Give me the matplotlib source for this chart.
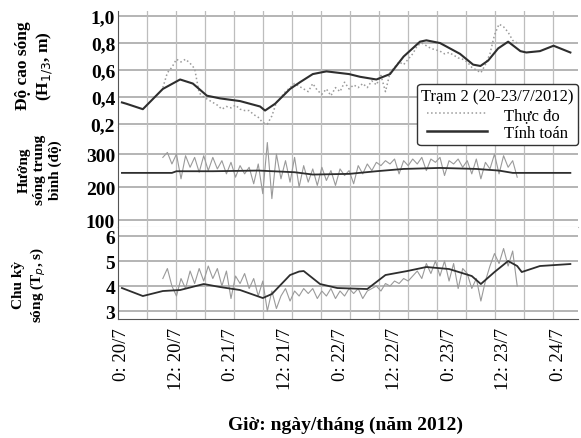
import matplotlib
matplotlib.use("Agg")
import matplotlib.pyplot as plt
import numpy as np
from matplotlib.lines import Line2D
from matplotlib.ticker import FuncFormatter

plt.rcParams['font.family'] = ['Liberation Serif', 'DejaVu Serif']

# Thời gian tính theo giờ kể từ 0h ngày 20/7/2012
tick_hours = [0, 12, 24, 36, 48, 60, 72, 84, 96]
tick_labels = ["0: 20/7", "12: 20/7", "0: 21/7", "12: 21/7", "0: 22/7",
               "12: 22/7", "0: 23/7", "12: 23/7", "0: 24/7"]

# Số liệu thực đo (mỗi giờ)
meas_hours = list(range(9, 88))
hs_meas = [0.47, 0.58, 0.62, 0.68, 0.66, 0.68, 0.65, 0.61, 0.43, 0.40,
           0.38, 0.36, 0.34, 0.31, 0.33, 0.32, 0.34, 0.31, 0.30, 0.30,
           0.27, 0.25, 0.21, 0.20, 0.26, 0.36, 0.40, 0.44, 0.47, 0.50,
           0.48, 0.46, 0.44, 0.50, 0.45, 0.42, 0.46, 0.41, 0.47, 0.44,
           0.51, 0.46, 0.49, 0.47, 0.50, 0.47, 0.52, 0.49, 0.56, 0.44,
           0.58, 0.62, 0.66, 0.64, 0.68, 0.72, 0.78, 0.80, 0.78, 0.76,
           0.75, 0.74, 0.72, 0.73, 0.71, 0.69, 0.68, 0.66, 0.62, 0.60,
           0.58, 0.64, 0.72, 0.86, 0.94, 0.92, 0.88, 0.82, 0.80]
dir_meas = [290, 305, 270, 300, 225, 295, 260, 290, 245, 295,
            250, 290, 255, 280, 240, 275, 230, 265, 240, 260,
            210, 270, 180, 335, 165, 300, 225, 280, 215, 290,
            200, 265, 215, 255, 205, 260, 220, 250, 205, 255,
            235, 250, 210, 265, 240, 270, 250, 275, 265, 280,
            270, 285, 240, 280, 265, 285, 270, 290, 250, 285,
            275, 290, 235, 280, 270, 285, 260, 280, 240, 285,
            225, 275, 255, 300, 240, 295, 260, 280, 230]
tp_meas = [4.3, 4.7, 4.0, 3.6, 4.3, 3.9, 4.6, 4.1, 4.7, 4.2,
           4.8, 4.3, 4.7, 4.0, 4.6, 3.5, 4.4, 4.1, 4.5, 3.9,
           4.3, 3.6, 4.2, 3.0, 3.8, 3.1, 3.6, 3.9, 3.4, 3.8,
           3.6, 3.9, 3.7, 3.9, 3.5, 3.8, 3.6, 3.9, 3.5, 3.8,
           3.6, 3.9, 3.7, 3.9, 3.5, 3.8, 3.9, 4.0, 3.8, 4.1,
           4.0, 4.2, 4.1, 4.3, 4.2, 4.4, 4.6, 4.3, 4.9, 4.5,
           5.0, 4.4, 5.0, 4.2, 4.9, 3.9, 4.7, 4.5, 3.9, 4.3,
           3.4, 4.2, 4.8, 5.3, 4.9, 5.5, 4.8, 5.4, 4.0]

# Kết quả tính toán
hs_calc_hours = [0, 1, 4.6, 9, 12.8, 15.6, 18.7, 21.6, 26, 30.4, 31.5, 33.7,
                 37, 39.2, 42, 45, 50, 52.4, 56, 59, 62, 65.6, 67, 70,
                 74.4, 77.3, 78.9, 80.6, 82.8, 85, 87.7, 89, 92, 95, 98.7]
hs_calc = [0.36, 0.35, 0.31, 0.46, 0.53, 0.50, 0.41, 0.39, 0.37, 0.33, 0.30,
           0.35, 0.46, 0.51, 0.57, 0.59, 0.57, 0.55, 0.53, 0.57, 0.70, 0.81,
           0.82, 0.80, 0.72, 0.64, 0.63, 0.67, 0.76, 0.81, 0.74, 0.73, 0.74,
           0.78, 0.73]
dir_calc_hours = [0, 11, 12, 20, 30, 38, 42, 50, 56, 62, 70, 78, 83, 86, 98.7]
dir_calc = [243, 243, 248, 248, 250, 245, 238, 240, 248, 255, 258, 255,
            250, 243, 243]
tp_calc_hours = [0, 4.6, 9, 12.8, 18, 21.6, 26, 31, 33, 37, 39, 40, 43.6,
                 47.4, 54, 58, 62.8, 67, 72, 77, 79, 82, 85, 87, 88, 92, 98.7]
tp_calc = [3.92, 3.60, 3.80, 3.84, 4.08, 3.96, 3.84, 3.52, 3.68, 4.44, 4.58,
           4.60, 4.08, 3.92, 3.88, 4.44, 4.60, 4.76, 4.68, 4.40, 4.08, 4.56,
           5.00, 4.80, 4.56, 4.80, 4.88]

meas_color = '#9a9a9a'
calc_color = '#2e2e2e'
grid_color = '#bdbdbd'

fig = plt.figure(figsize=(5.81, 4.39), dpi=100)
left, width = 0.203, 0.792
ax1 = fig.add_axes([left, 0.7084, width, 0.2642])
ax2 = fig.add_axes([left, 0.4806, width, 0.2278])
ax3 = fig.add_axes([left, 0.2710, width, 0.2096])

ax1.plot(meas_hours, hs_meas, color=meas_color, lw=1.1, ls=':', zorder=3)
ax1.plot(hs_calc_hours, hs_calc, color=calc_color, lw=1.5, zorder=4)
ax2.plot(meas_hours, dir_meas, color=meas_color, lw=0.8, zorder=3)
ax2.plot(dir_calc_hours, dir_calc, color=calc_color, lw=1.3, zorder=4)
ax3.plot(meas_hours, tp_meas, color=meas_color, lw=0.8, zorder=3)
ax3.plot(tp_calc_hours, tp_calc, color=calc_color, lw=1.3, zorder=4)

ax1.set_ylim(0.178, 1.037)
ax1.set_yticks([0.2, 0.4, 0.6, 0.8, 1.0])
ax1.yaxis.set_major_formatter(FuncFormatter(lambda v, p: f"{v:.1f}".replace('.', ',')))
ax2.set_ylim(79, 382)
ax2.set_yticks([100, 200, 300])
ax3.set_ylim(2.68, 6.36)
ax3.set_yticks([3, 4, 5, 6])

# lưới
grid_x = np.arange(-0.88, 100.5, 6.39)
for ax in (ax1, ax2, ax3):
    ax.set_xlim(-0.88, 100.4)
    for gx in grid_x[1:]:
        ax.axvline(gx, color=grid_color, linewidth=0.9, zorder=1)
    ax.grid(True, axis='y', color='#a8a8a8', linewidth=1.2, zorder=1)
    ax.set_axisbelow(True)
    for s in ('top', 'right'):
        ax.spines[s].set_visible(False)
    ax.spines['left'].set_color('#555555')
    ax.spines['bottom'].set_color(grid_color)
    ax.tick_params(axis='y', length=0, labelsize=14, pad=2)
    for t in ax.get_yticklabels():
        t.set_fontweight('bold')

ax3.spines['bottom'].set_color('#555555')
for ax in (ax1, ax2):
    ax.set_xticks([])
ax3.set_xticks(tick_hours)
ax3.set_xticklabels(tick_labels, rotation=90, fontsize=13.5)
ax3.tick_params(axis='x', length=0, pad=6)

fig.text(0.060, 0.850, "Độ cao sóng\n(H$_{1/3}$, m)", rotation=90, ha='center',
         va='center', fontsize=12.5, fontweight='bold', multialignment='center',
         linespacing=1.2)
fig.text(0.069, 0.613, "Hướng\nsóng trung\nbình (độ)", rotation=90, ha='center',
         va='center', fontsize=11, fontweight='bold', multialignment='center',
         linespacing=1.25)
fig.text(0.052, 0.350, "Chu kỳ\nsóng (T$_p$, s)", rotation=90, ha='center',
         va='center', fontsize=11, fontweight='bold', multialignment='center',
         linespacing=1.25)
fig.text(0.594, 0.032, "Giờ: ngày/tháng (năm 2012)", ha='center', va='center',
         fontsize=14, fontweight='bold')

handles = [Line2D([], [], color=meas_color, lw=1.1, ls=':'),
           Line2D([], [], color=calc_color, lw=1.8)]
leg = fig.legend(handles, ["Thực đo", "Tính toán"], title="Trạm 2 (20-23/7/2012)",
                 loc='upper right', bbox_to_anchor=(0.995, 0.806), borderaxespad=0,
                 fontsize=12, title_fontsize=12, handlelength=3.6, fancybox=True,
                 framealpha=1, edgecolor='#333333', borderpad=0.25,
                 labelspacing=0.15, handletextpad=1.0)
leg.get_frame().set_linewidth(1.0)

fig.savefig("out.png", dpi=100)
